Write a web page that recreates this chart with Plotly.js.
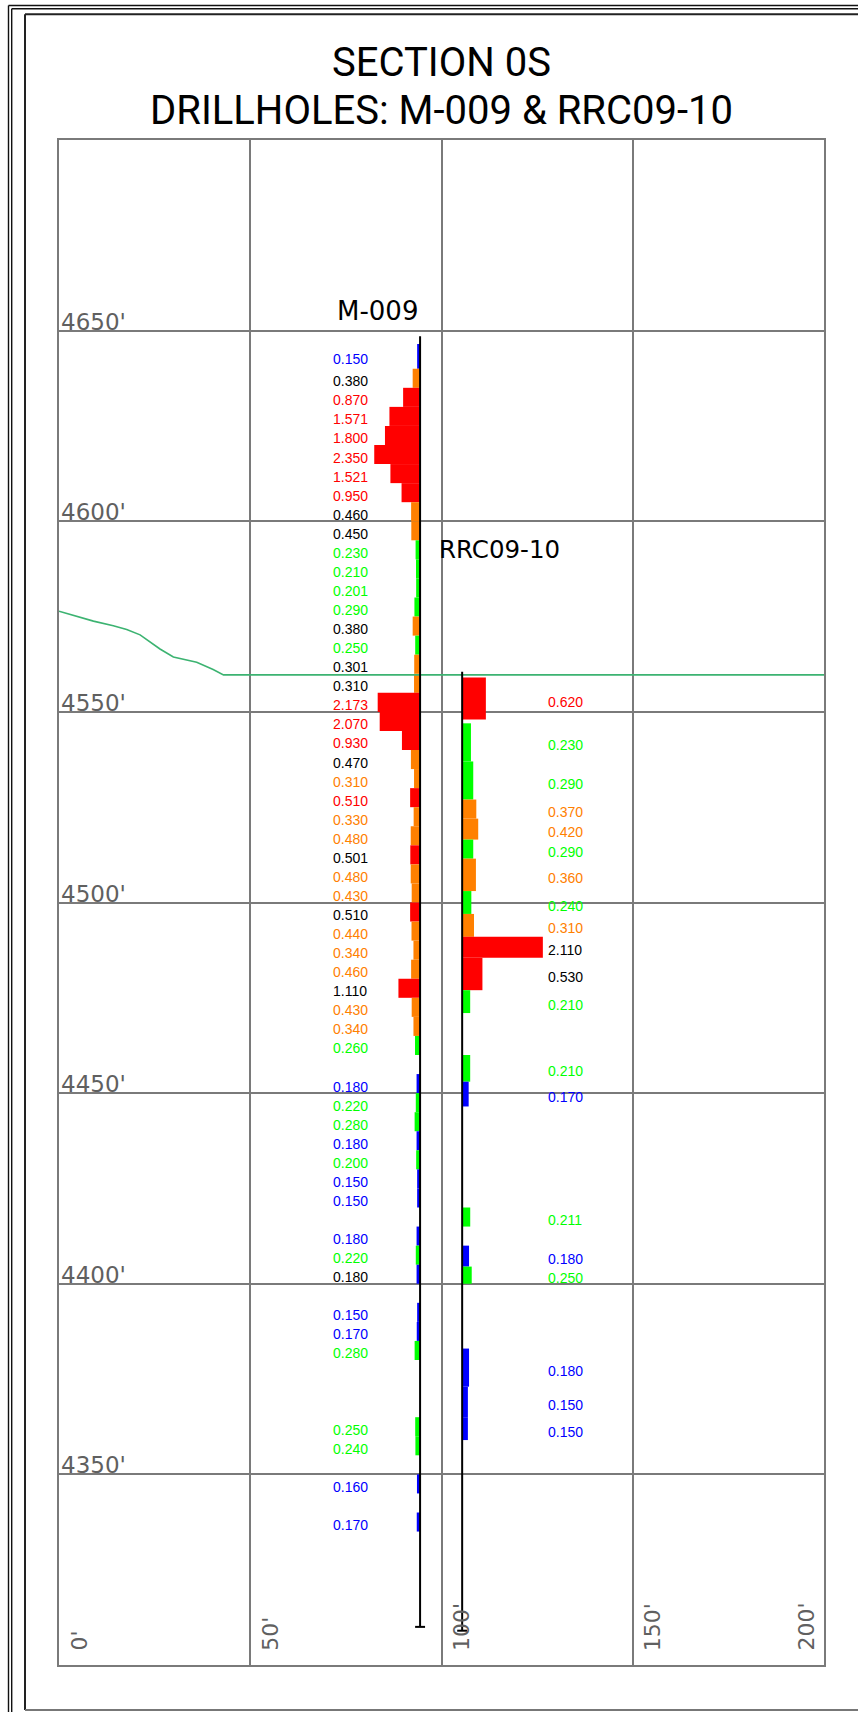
<!DOCTYPE html>
<html>
<head>
<meta charset="utf-8">
<script src="https://cdn.plot.ly/plotly-3.0.1.min.js"></script>
<style>
html,body{margin:0;padding:0;background:#ffffff;}
#chart{width:858px;height:1712px;}
</style>
</head>
<body>
<div id="chart"></div>
<script>
// ---------------- DATA ----------------
const titleLines = ['SECTION 0S', 'DRILLHOLES: M-009 & RRC09-10'];

const holeNames  = ['M-009', 'RRC09-10'];
const holeX      = [94.4, 105.4];      // easting along section (ft)
const holeTop    = [4648.5, 4560.5];   // collar elevation (ft)
const holeBottom = [4310, 4309];       // end-of-hole elevation (ft)

// M-009 assay intervals (elevation ft) and grades
const m009From = [4646.5, 4640, 4635, 4630, 4625, 4620, 4615, 4610, 4605, 4600,
                  4595, 4590, 4585, 4580, 4575, 4570, 4565, 4560, 4555, 4550,
                  4545, 4540, 4535, 4530, 4525, 4520, 4515, 4510, 4505, 4500,
                  4495, 4490, 4485, 4480, 4475, 4470, 4465, 4455, 4450, 4445,
                  4440, 4435, 4430, 4425, 4415, 4410, 4405, 4395, 4390, 4385,
                  4365, 4360, 4350, 4340];
const m009To   = [4640, 4635, 4630, 4625, 4620, 4615, 4610, 4605, 4600, 4595,
                  4590, 4585, 4580, 4575, 4570, 4565, 4560, 4555, 4550, 4545,
                  4540, 4535, 4530, 4525, 4520, 4515, 4510, 4505, 4500, 4495,
                  4490, 4485, 4480, 4475, 4470, 4465, 4460, 4450, 4445, 4440,
                  4435, 4430, 4425, 4420, 4410, 4405, 4400, 4390, 4385, 4380,
                  4360, 4355, 4345, 4335];
const m009Grade = [0.150, 0.380, 0.870, 1.571, 1.800, 2.350, 1.521, 0.950, 0.460, 0.450,
                   0.230, 0.210, 0.201, 0.290, 0.380, 0.250, 0.301, 0.310, 2.173, 2.070,
                   0.930, 0.470, 0.310, 0.510, 0.330, 0.480, 0.501, 0.480, 0.430, 0.510,
                   0.440, 0.340, 0.460, 1.110, 0.430, 0.340, 0.260, 0.180, 0.220, 0.280,
                   0.180, 0.200, 0.150, 0.150, 0.180, 0.220, 0.180, 0.150, 0.170, 0.280,
                   0.250, 0.240, 0.160, 0.170];
const m009LabelColor = ['blue','black','red','red','red','red','red','red','black','black',
                        'green','green','green','green','black','green','black','black','red','red',
                        'red','black','orange','red','orange','orange','black','orange','orange','black',
                        'orange','orange','orange','black','orange','orange','green','blue','green','green',
                        'blue','green','blue','blue','blue','green','black','blue','blue','green',
                        'green','green','blue','blue'];

// RRC09-10 assay intervals (elevation ft) and grades
const rrcFrom  = [4559, 4547, 4537, 4527, 4522, 4516.5, 4511.5, 4503, 4497, 4491,
                  4485.5, 4477, 4460, 4453, 4420, 4410, 4404.5, 4383, 4373, 4365];
const rrcTo    = [4548, 4537, 4527, 4522, 4516.5, 4511.5, 4503, 4497, 4491, 4485.5,
                  4477, 4471, 4453, 4446.5, 4415, 4404.5, 4400, 4373, 4365, 4359];
const rrcGrade = [0.620, 0.230, 0.290, 0.370, 0.420, 0.290, 0.360, 0.240, 0.310, 2.110,
                  0.530, 0.210, 0.210, 0.170, 0.211, 0.180, 0.250, 0.180, 0.150, 0.150];
const rrcLabelColor = ['red','green','green','orange','orange','green','orange','green','orange','black',
                       'black','green','green','blue','green','blue','green','blue','blue','blue'];

// topographic surface
const topoX = [0, 5.5, 9.0, 14.2, 17.7, 21.2, 22.9, 26.4, 29.9, 33.4, 36.0, 40.3, 43.0, 200];
const topoY = [4576.4, 4574.8, 4573.8, 4572.6, 4571.6, 4570.2, 4569.0, 4566.5, 4564.4, 4563.5,
               4563.0, 4561.1, 4559.7, 4559.7];

// axis ticks
const xTickVals = [0, 50, 100, 150, 200];
const xTickText = ["0'", "50'", "100'", "150'", "200'"];
const yTickVals = [4350, 4400, 4450, 4500, 4550, 4600, 4650];
const yTickText = ["4350'", "4400'", "4450'", "4500'", "4550'", "4600'", "4650'"];

// ---------------- STYLE ----------------
const COLORS = {blue:'#0000ff', green:'#00ff00', orange:'#ff8000', red:'#ff0000', black:'#000000'};
function gradeColor(g){ return g < 0.2 ? COLORS.blue : g < 0.3 ? COLORS.green : g < 0.5 ? COLORS.orange : COLORS.red; }
const M_BAR_SCALE = 5.1;   // ft of bar per unit grade (M-009, drawn to the left)
const R_BAR_SCALE = 10.0;  // ft of bar per unit grade (RRC09-10, drawn to the right)
const M_LABEL_X = 71.1, R_LABEL_X = 127.3;
const GRID = '#7a7a7a';
const LBLFONT = 'Liberation Sans, Arial, sans-serif';
const CADFONT = 'DejaVu Sans, sans-serif';
const TITLEFONT = 'Roboto, Liberation Sans, sans-serif';

const W = 858, H = 1712, ML = 59, MR = 34, MT = 140, MB = 47;
const PW = W - ML - MR, PH = H - MT - MB;
const px = v => (v - ML) / PW;           // pixel x -> paper
const py = v => (H - MB - v) / PH;       // pixel y -> paper

// ---------------- TRACES ----------------
const mid = (a, b) => a.map((v, i) => (v + b[i]) / 2);
const traces = [];

traces.push({
  type:'bar', orientation:'h',
  y: mid(m009From, m009To), width: m009From.map((v,i)=>v - m009To[i]),
  x: m009Grade.map(g => -g * M_BAR_SCALE), base: holeX[0],
  marker:{color: m009Grade.map(gradeColor), line:{width:0}},
  hoverinfo:'skip', showlegend:false
});
traces.push({
  type:'bar', orientation:'h',
  y: mid(rrcFrom, rrcTo), width: rrcFrom.map((v,i)=>v - rrcTo[i]),
  x: rrcGrade.map(g => g * R_BAR_SCALE), base: holeX[1],
  marker:{color: rrcGrade.map(gradeColor), line:{width:0}},
  hoverinfo:'skip', showlegend:false
});
traces.push({
  type:'scatter', mode:'lines', x: topoX, y: topoY,
  line:{color:'#3cb371', width:1.6}, hoverinfo:'skip', showlegend:false
});
holeNames.forEach((n, i) => {
  traces.push({
    type:'scatter', mode:'lines',
    x:[holeX[i], holeX[i], null, holeX[i] - 1.3, holeX[i] + 1.3],
    y:[holeTop[i], holeBottom[i], null, holeBottom[i], holeBottom[i]],
    line:{color:'#000000', width:2}, hoverinfo:'skip', showlegend:false
  });
});

// ---------------- ANNOTATIONS ----------------
const ann = [];
ann.push({xref:'paper', yref:'paper', x:0.5, y:py(88), xanchor:'center', yanchor:'bottom',
  text:titleLines[0], showarrow:false, font:{family:TITLEFONT, size:40, color:'#000'}});
ann.push({xref:'paper', yref:'paper', x:0.5, y:py(136), xanchor:'center', yanchor:'bottom',
  text:titleLines[1], showarrow:false, font:{family:TITLEFONT, size:40, color:'#000'}});

yTickVals.forEach((v, i) => ann.push({
  xref:'paper', yref:'y', x:0, y:v, xanchor:'left', yanchor:'bottom', xshift:0, yshift:-6,
  text:yTickText[i], showarrow:false, font:{family:CADFONT, size:23, color:'#606060'}
}));
xTickVals.forEach((v, i) => {
  const last = i === xTickVals.length - 1;
  ann.push({
    xref:'x', yref:'y', x:v, y:4300, xanchor: last ? 'right' : 'left', yanchor:'bottom',
    xshift: last ? -4 : 5, yshift:12, textangle:-90,
    text:xTickText[i], showarrow:false, font:{family:CADFONT, size:22, color:'#606060'}
  });
});

// hole names
ann.push({xref:'x', yref:'y', x:holeX[0], y:4650, xanchor:'right', yanchor:'bottom', xshift:0, yshift:3,
  text:holeNames[0], showarrow:false, font:{family:CADFONT, size:26, color:'#000'}});
ann.push({xref:'x', yref:'y', x:holeX[1], y:4590, xanchor:'left', yanchor:'bottom', xshift:-25, yshift:-7,
  text:holeNames[1], showarrow:false, font:{family:CADFONT, size:24.5, color:'#000'}});

// grade labels
m009Grade.forEach((g, i) => ann.push({
  xref:'x', yref:'y', x:M_LABEL_X, y:(m009From[i] + m009To[i]) / 2, xanchor:'left', yanchor:'middle', yshift:-3,
  text:g.toFixed(3), showarrow:false, font:{family:LBLFONT, size:14, color:COLORS[m009LabelColor[i]]}
}));
rrcGrade.forEach((g, i) => ann.push({
  xref:'x', yref:'y', x:R_LABEL_X, y:(rrcFrom[i] + rrcTo[i]) / 2, xanchor:'left', yanchor:'middle', yshift:-3,
  text:g.toFixed(3), showarrow:false, font:{family:LBLFONT, size:14, color:COLORS[rrcLabelColor[i]]}
}));

// ---------------- FRAME ----------------
const shapes = [
  {type:'line', xref:'paper', yref:'paper', x0:px(8.5), x1:px(8.5), y0:py(5.5), y1:py(1800), line:{color:'#111', width:1.4}},
  {type:'line', xref:'paper', yref:'paper', x0:px(8.5), x1:px(900), y0:py(5.5), y1:py(5.5), line:{color:'#111', width:1.4}},
  {type:'line', xref:'paper', yref:'paper', x0:px(11.7), x1:px(11.7), y0:py(8.7), y1:py(1800), line:{color:'#111', width:1.4}},
  {type:'line', xref:'paper', yref:'paper', x0:px(11.7), x1:px(900), y0:py(8.7), y1:py(8.7), line:{color:'#111', width:1.4}},
  {type:'line', xref:'paper', yref:'paper', x0:px(25), x1:px(25), y0:py(14.3), y1:py(1710), line:{color:'#222', width:2}},
  {type:'line', xref:'paper', yref:'paper', x0:px(25), x1:px(900), y0:py(14.3), y1:py(14.3), line:{color:'#222', width:2}},
  {type:'line', xref:'paper', yref:'paper', x0:px(25), x1:px(900), y0:py(1710), y1:py(1710), line:{color:'#777', width:2}}
];

const axisCommon = {
  showgrid:true, gridcolor:GRID, gridwidth:2, zeroline:false,
  showline:true, mirror:true, linecolor:GRID, linewidth:2,
  ticks:'', showticklabels:false, fixedrange:true
};

const layout = {
  width:W, height:H,
  margin:{l:ML, r:MR, t:MT, b:MB, pad:0},
  paper_bgcolor:'#ffffff', plot_bgcolor:'#ffffff',
  barmode:'overlay', showlegend:false, hovermode:false,
  xaxis:Object.assign({range:[0,200], tick0:0, dtick:50}, axisCommon),
  yaxis:Object.assign({range:[4300,4700], tick0:4300, dtick:50}, axisCommon),
  annotations:ann, shapes:shapes
};

Plotly.newPlot('chart', traces, layout, {displayModeBar:false, staticPlot:true});
</script>
</body>
</html>
